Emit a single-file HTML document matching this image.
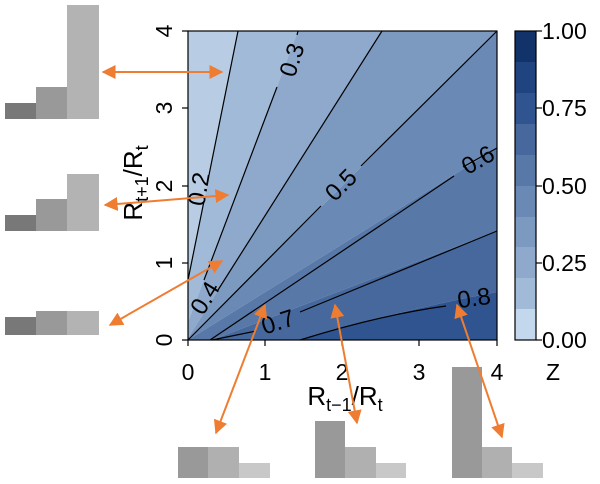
<!DOCTYPE html>
<html><head><style>body{margin:0;background:#fff}svg{display:block}</style></head><body>
<svg width="600" height="484" viewBox="0 0 600 484" xmlns="http://www.w3.org/2000/svg" font-family="Liberation Sans, sans-serif">
<defs><marker id="ah" viewBox="0 0 10 10" refX="9" refY="5" markerWidth="7" markerHeight="7" orient="auto-start-reverse"><path d="M0,0L10,5L0,10z" fill="#ee7d31"/></marker></defs>
<!-- bands -->
<polygon points="188,31 238,31 188,280" fill="#b8cde4"/>
<polygon points="238,31 298,31 188,322 188,280" fill="#a1bad8"/>
<polygon points="298,31 382,31 188,338 188,322" fill="#8ea9cc"/>
<polygon points="382,31 497,31 188,340 188,338" fill="#7c99c0"/>
<polygon points="188,340 497,31 497,148" fill="#6a89b4"/>
<polygon points="188,340 497,148 497,231 212,340" fill="#5878a8"/>
<path d="M212,340 L497,231 L497,292 Q400,310 300,340 Z" fill="#46689c"/>
<path d="M300,340 Q400,310 497,292 L497,340 Z" fill="#2f5490"/>
<!-- contour lines -->
<g stroke="#000" stroke-width="1.2" fill="none">
<line x1="238" y1="31" x2="209" y2="175"/><line x1="204" y1="201" x2="188" y2="280"/>
<line x1="298" y1="31" x2="297" y2="35"/><line x1="277" y1="87" x2="204" y2="280"/>
<line x1="382" y1="31" x2="218" y2="290"/>
<line x1="497" y1="31" x2="361" y2="166"/><line x1="321" y1="206" x2="188" y2="340"/>
<line x1="497" y1="148" x2="463" y2="167"/><line x1="454" y1="176" x2="210" y2="340"/>
<line x1="497" y1="231" x2="300" y2="312"/><line x1="256" y1="331" x2="212" y2="340"/>
<path d="M446,306 Q380,315 300,340"/>
</g>
<g font-size="24" fill="#000" text-anchor="middle">
<text transform="translate(292,60) rotate(-72)" dy="8">0.3</text>
<text transform="translate(199,189) rotate(-80)" dy="8">0.2</text>
<text transform="translate(205,298) rotate(-58)" dy="8">0.4</text>
<text transform="translate(341,185) rotate(-45)" dy="8">0.5</text>
<text transform="translate(478,160) rotate(-30)" dy="8">0.6</text>
<text transform="translate(278,322) rotate(-18)" dy="8">0.7</text>
<text transform="translate(474,298) rotate(-8)" dy="8">0.8</text>
</g>
<rect x="188" y="31" width="309" height="309" fill="none" stroke="#000" stroke-width="1.2"/>
<!-- ticks -->
<g stroke="#000" stroke-width="1.2">
<line x1="188" y1="340" x2="188" y2="346"/><line x1="265" y1="340" x2="265" y2="346"/><line x1="342" y1="340" x2="342" y2="346"/><line x1="419" y1="340" x2="419" y2="346"/><line x1="497" y1="340" x2="497" y2="346"/>
<line x1="182" y1="31" x2="188" y2="31"/><line x1="182" y1="108" x2="188" y2="108"/><line x1="182" y1="186" x2="188" y2="186"/><line x1="182" y1="263" x2="188" y2="263"/><line x1="182" y1="340" x2="188" y2="340"/>
</g>
<g font-size="23" text-anchor="middle">
<text x="188" y="380">0</text><text x="265" y="380">1</text><text x="342" y="380">2</text><text x="419" y="380">3</text><text x="497" y="380">4</text>
<text transform="translate(172,31) rotate(-90)" dy="0">4</text>
<text transform="translate(172,108) rotate(-90)">3</text>
<text transform="translate(172,186) rotate(-90)">2</text>
<text transform="translate(172,263) rotate(-90)">1</text>
<text transform="translate(172,340) rotate(-90)">0</text>
<text x="345" y="405" font-size="26">R<tspan font-size="18" dy="6">t−1</tspan><tspan dy="-6">/R</tspan><tspan font-size="18" dy="6">t</tspan></text>
<text transform="translate(142,183) rotate(-90)" font-size="26">R<tspan font-size="18" dy="6">t+1</tspan><tspan dy="-6">/R</tspan><tspan font-size="18" dy="6">t</tspan></text>
</g>
<!-- colorbar -->
<g>
<rect x="515" y="31" width="21" height="31" fill="#12326a"/>
<rect x="515" y="62" width="21" height="31" fill="#1f4480"/>
<rect x="515" y="93" width="21" height="31" fill="#2f5490"/>
<rect x="515" y="124" width="21" height="31" fill="#46689c"/>
<rect x="515" y="155" width="21" height="31" fill="#5878a8"/>
<rect x="515" y="186" width="21" height="31" fill="#6a89b4"/>
<rect x="515" y="217" width="21" height="30" fill="#7c99c0"/>
<rect x="515" y="247" width="21" height="31" fill="#8ea9cc"/>
<rect x="515" y="278" width="21" height="31" fill="#a1bad8"/>
<rect x="515" y="309" width="21" height="31" fill="#c4d8ed"/>
<rect x="515" y="31" width="21" height="309" fill="none" stroke="#000" stroke-width="1.2"/>
<g stroke="#000" stroke-width="1.2"><line x1="536" y1="31" x2="542" y2="31"/><line x1="536" y1="108" x2="542" y2="108"/><line x1="536" y1="186" x2="542" y2="186"/><line x1="536" y1="263" x2="542" y2="263"/><line x1="536" y1="340" x2="542" y2="340"/></g>
<g font-size="23"><text x="542" y="39">1.00</text><text x="542" y="116">0.75</text><text x="542" y="194">0.50</text><text x="542" y="271">0.25</text><text x="542" y="348">0.00</text><text x="546" y="380">Z</text></g>
</g>
<!-- bar charts -->
<g>
<rect x="5" y="103" width="31" height="16" fill="#787878"/><rect x="36" y="87" width="31" height="32" fill="#999"/><rect x="67" y="5" width="32" height="114" fill="#b3b3b3"/>
<rect x="5" y="215" width="31" height="16" fill="#787878"/><rect x="36" y="199" width="31" height="32" fill="#999"/><rect x="67" y="174" width="32" height="57" fill="#b3b3b3"/>
<rect x="5" y="317" width="31" height="18" fill="#787878"/><rect x="36" y="311" width="31" height="24" fill="#999"/><rect x="67" y="311" width="32" height="24" fill="#b3b3b3"/>
<rect x="178" y="447" width="30" height="31" fill="#999"/><rect x="208" y="447" width="31" height="31" fill="#b0b0b0"/><rect x="239" y="463" width="31" height="15" fill="#c8c8c8"/>
<rect x="315" y="421" width="30" height="57" fill="#999"/><rect x="345" y="447" width="31" height="31" fill="#b0b0b0"/><rect x="376" y="463" width="30" height="15" fill="#c8c8c8"/>
<rect x="452" y="367" width="30" height="111" fill="#999"/><rect x="482" y="447" width="30" height="31" fill="#b0b0b0"/><rect x="512" y="463" width="31" height="15" fill="#c8c8c8"/>
</g>
<!-- arrows -->
<g stroke="#ee7d31" stroke-width="2" marker-start="url(#ah)" marker-end="url(#ah)">
<line x1="103" y1="72" x2="222" y2="72"/>
<line x1="105" y1="205" x2="228" y2="195"/>
<line x1="110" y1="325" x2="222" y2="261"/>
<line x1="216" y1="433" x2="265" y2="305"/>
<line x1="357" y1="423" x2="335" y2="305"/>
<line x1="502" y1="437" x2="457" y2="305"/>
</g>
</svg>
</body></html>
